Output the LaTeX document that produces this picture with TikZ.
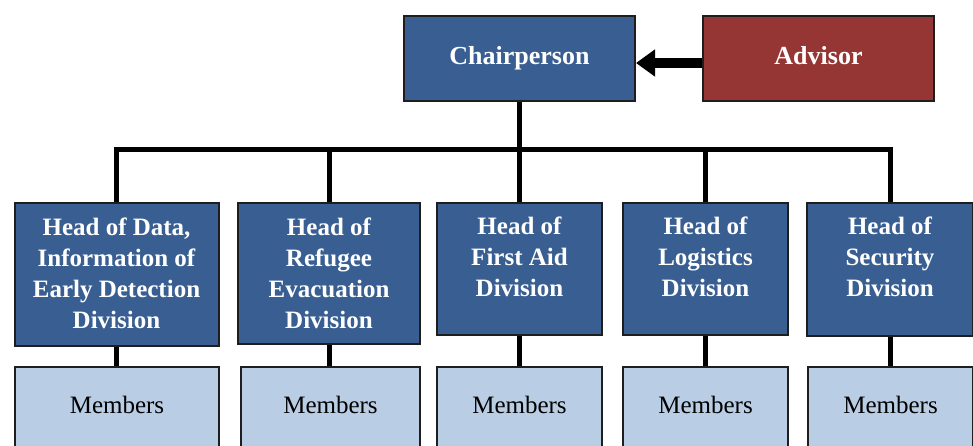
\documentclass[tikz,border=0pt]{standalone}
\usepackage{fontspec}
\setmainfont{Liberation Serif}
\usetikzlibrary{arrows.meta}
\definecolor{darkblue}{RGB}{57,94,146}
\definecolor{darkred}{RGB}{149,54,52}
\definecolor{lightblue}{RGB}{185,205,229}
\definecolor{edge}{RGB}{30,30,30}
\tikzset{
  box/.style={draw=edge, line width=2pt, rectangle, inner sep=0pt},
  bluebox/.style={box, fill=darkblue},
  memberbox/.style={box, fill=lightblue, minimum height=90pt},
  toptxt/.style={text=white, font=\fontsize{26}{30}\selectfont\bfseries, text height=18pt, text depth=6pt},
  headtxt/.style={text=white, align=center, font=\fontsize{25}{31}\selectfont\bfseries, inner sep=0pt},
  memtxt/.style={text=black, font=\fontsize{25}{30}\selectfont, inner sep=0pt},
  conn/.style={line width=5pt, black},
}
\begin{document}
\begin{tikzpicture}[x=1pt,y=-1pt]
\useasboundingbox (0,0) rectangle (973,446);
% top
\node[bluebox, minimum width=231pt, minimum height=85pt, toptxt] (chair) at (519.5,58.5) {Chairperson};
\node[box, fill=darkred, minimum width=231pt, minimum height=85pt, toptxt] (adv) at (818.5,58.5) {Advisor};
% heads
\node[bluebox, minimum width=204pt, minimum height=143pt] (h1) at (116.5,274.5) {};
\node[bluebox, minimum width=182pt, minimum height=141pt] (h2) at (329,273.5) {};
\node[bluebox, minimum width=165pt, minimum height=132pt] (h3) at (519.5,269) {};
\node[bluebox, minimum width=165pt, minimum height=132pt] (h4) at (705.5,269) {};
\node[bluebox, minimum width=166pt, minimum height=133pt] (h5) at (890,269.5) {};
\node[headtxt] (t1) at ([yshift=-71pt]h1.north) {Head of Data,\\Information of\\Early Detection\\Division};
\node[headtxt] (t2) at ([yshift=-71pt]h2.north) {Head of\\Refugee\\Evacuation\\Division};
\node[headtxt] (t3) at ([yshift=-55pt]h3.north) {Head of\\First Aid\\Division};
\node[headtxt] (t4) at ([yshift=-55pt]h4.north) {Head of\\Logistics\\Division};
\node[headtxt] (t5) at ([yshift=-55pt]h5.north) {Head of\\Security\\Division};
% members
\node[memberbox, minimum width=204pt] (m1) at (117,412) {};
\node[memberbox, minimum width=179pt] (m2) at (330.5,412) {};
\node[memberbox, minimum width=165pt] (m3) at (519.5,412) {};
\node[memberbox, minimum width=165pt] (m4) at (705.5,412) {};
\node[memberbox, minimum width=165pt] (m5) at (890.5,412) {};
\foreach \i in {1,...,5}{
  \node[memtxt] (mt\i) at ([yshift=-39pt]m\i.north) {Members};
}
% connectors
\coordinate (bus) at (0,150);
\draw[conn] (h1.north) -- (h1.north |- bus) -- (h5.north |- bus) -- (h5.north);
\draw[conn] (chair.south) -- (chair.south |- bus);
\foreach \i in {2,3,4}{
  \draw[conn] (h\i.north |- bus) -- (h\i.north);
}
\foreach \i in {1,...,5}{
  \draw[conn] (h\i.south) -- (h\i.south |- m\i.north);
}
\draw[line width=10pt, -{Triangle[length=19pt,width=26pt]}]
  ([yshift=-4.5pt]adv.west) -- ([yshift=-4.5pt]chair.east);
\end{tikzpicture}
\end{document}
